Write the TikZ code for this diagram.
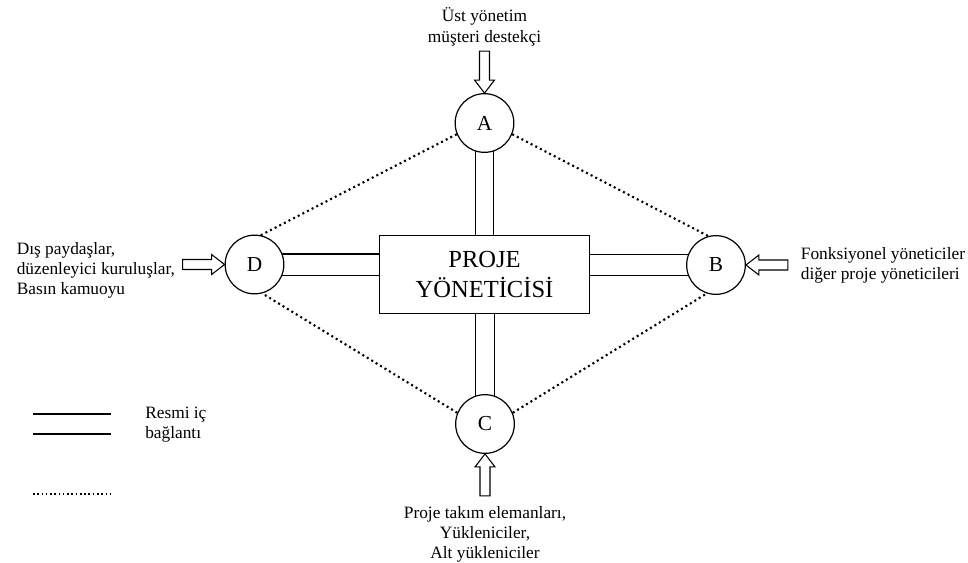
\documentclass[tikz,border=0pt]{standalone}
\usepackage{fontspec}
\setmainfont{Liberation Serif}
\usetikzlibrary{positioning,backgrounds,calc}

\begin{document}
\begin{tikzpicture}[x=0.75pt,y=0.75pt,
   every node/.style={font=\fontsize{13}{15}\selectfont},
   party/.style={circle,draw,line width=0.9pt,fill=white,minimum size=44pt,
     inner sep=0pt,font=\fontsize{16}{18}\selectfont},
   pm/.style={draw,line width=0.9pt,fill=white,minimum width=158pt,
     minimum height=59pt,align=center,font=\fontsize{18.4}{22.5}\selectfont},
   formal/.style={double,double distance=#1,line width=0.8pt},
   formal/.default=13pt,
   informal/.style={line width=1.6pt,dash pattern=on 1.5pt off 2.4pt},
   inarrow/.pic={\draw[line width=0.8pt] (-42,-5) -- (-13,-5) -- (-13,-10)
     -- (0,0) -- (-13,10) -- (-13,5) -- (-42,5) -- cycle;}]
  \useasboundingbox (0,0) rectangle (968,-562);

  % project manager and the four parties
  \node[pm] (pm) at (484.5,-274.5) {PROJE\\YÖNETİCİSİ};
  \node[party] (A) at (484.5,-123) {A};
  \node[party] (B) at (716,-265) {B};
  \node[party] (C) at (485,-424) {C};
  \node[party] (D) at (254.5,-264.5) {D};

  % formal links
  \begin{scope}[on background layer]
    \draw[formal=13pt] (A.center) -- (A.center |- pm.north);
    \draw[formal=13pt] (C.center) -- (C.center |- pm.south);
    \draw[formal=15pt] (D.center) -- (D.center -| pm.west);
    \draw[formal=15pt] (B.center) -- (B.center -| pm.east);
  \end{scope}

  % informal links
  \draw[informal] (A.202) -- (D.78);
  \draw[informal] (A.338) -- (B.105);
  \draw[informal] (C.158) -- (D.285);
  \draw[informal] (C.22) -- (B.252);

  % inputs
  \pic[rotate=-90] at (A.north) {inarrow};
  \pic at (D.west) {inarrow};
  \pic[rotate=180] at (B.east) {inarrow};
  \pic[rotate=90] at (C.south) {inarrow};

  \node[above=35pt of A,align=center,inner sep=0pt] (top)
    {Üst yönetim\\[1pt]müşteri destekçi};
  \node[below=39pt of C,align=center,inner sep=0pt] (bottom)
    {Proje takım elemanları,\\Yükleniciler,\\Alt yükleniciler};
  \node[left=37pt of D,yshift=-4.5pt,align=left,inner sep=0pt] (left)
    {Dış paydaşlar,\\düzenleyici kuruluşlar,\\Basın kamuoyu};
  \node[right=41pt of B,align=left,inner sep=0pt] (right)
    {Fonksiyonel yöneticiler\\diğer proje yöneticileri};

  % legend
  \coordinate (f1) at (33,-414);
  \coordinate (f2) at (111,-414);
  \coordinate (f3) at (33,-434);
  \coordinate (f4) at (111,-434);
  \coordinate (i1) at (33,-494);
  \coordinate (i2) at (111,-494);
  \draw[line width=0.9pt] (f1) -- (f2);
  \draw[line width=0.9pt] (f3) -- (f4);
  \draw[informal,line width=1.2pt,dash pattern=on 1.2pt off 2pt] (i1) -- (i2);
  \node[anchor=west,align=left,inner sep=0pt] (key) at (145,-425)
    {Resmi iç\\bağlantı};
\end{tikzpicture}
\end{document}
